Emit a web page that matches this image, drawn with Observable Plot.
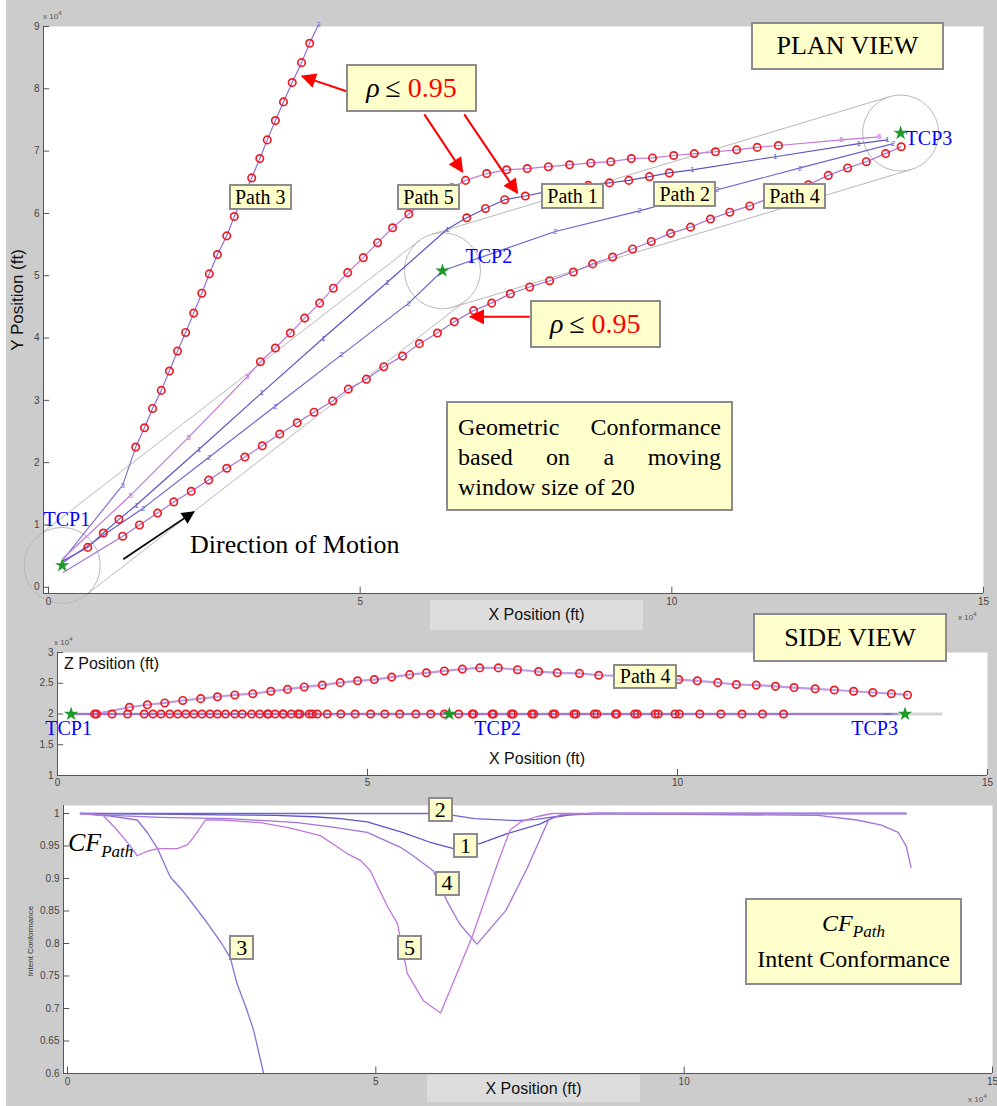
<!DOCTYPE html>
<html>
<head>
<meta charset="utf-8">
<script src="https://cdn.jsdelivr.net/npm/d3@7"></script>
<script src="https://cdn.jsdelivr.net/npm/@observablehq/plot@0.6"></script>
<style>
  body { margin: 0; background: #ffffff; }
  #fig { position: relative; width: 997px; height: 1106px; background: #cccccc; overflow: hidden;
         font-family: "Liberation Sans", Arial, sans-serif; }
  #fig > svg { position: absolute; left: 0; }
  .box { position: absolute; box-sizing: border-box; background: #ffffcc; border: 2px solid #8c8c8c;
         font-family: "Liberation Serif", "Times New Roman", serif; color: #000; white-space: nowrap; }
  .ctr { display: flex; align-items: center; justify-content: center; }
  .txt { position: absolute; white-space: nowrap; }
  .xlab { position: absolute; background: #dddddd; color: #111; font-size: 16px; display: flex;
          align-items: center; justify-content: center; }
  .exp { position: absolute; font-size: 8px; color: #555; white-space: nowrap; }
  .exp sup { font-size: 6px; }
</style>
</head>
<body>
<div id="fig"></div>
<script>
// ---------------------------------------------------------------------------
// Plan-view trajectories, x / y in 10^4 ft.  Third value: 1 where the
// geometric conformance over the moving window drops to rho <= 0.95.
const path1 = [[0.24,0.43,0],[0.63,0.64,1],[0.88,0.87,1],[1.13,1.09,1],[1.41,1.32,0],[2.42,2.22,0],
  [3.42,3.12,0],[4.41,4.00,0],[5.44,4.90,0],[6.40,5.75,0],[6.71,5.93,1],[7.01,6.08,1],[7.32,6.22,1],
  [7.65,6.28,1],[7.99,6.35,1],[8.33,6.40,1],[8.66,6.45,1],[9.00,6.49,1],[9.31,6.53,1],[9.64,6.59,1],
  [9.96,6.65,1],[10.33,6.70,0],[11.66,6.91,0],[13.00,7.12,0],[13.46,7.18,0]];
const path2 = [[0.24,0.40,0],[1.52,1.27,0],[2.58,2.09,0],[3.64,2.91,0],[4.70,3.73,0],[5.78,4.56,0],
  [6.32,5.08,0],[8.13,5.71,0],[9.48,6.04,0],[10.73,6.38,0],[12.06,6.73,0],[13.55,7.12,0]];
const path3 = [[0.24,0.45,0],[1.19,1.64,0],[1.40,2.25,1],[1.54,2.56,1],[1.67,2.87,1],[1.81,3.16,1],
  [1.94,3.47,1],[2.07,3.79,1],[2.20,4.09,1],[2.33,4.40,1],[2.46,4.72,1],[2.58,5.03,1],[2.71,5.34,1],
  [2.86,5.64,1],[2.98,5.95,1],[3.13,6.27,1],[3.26,6.57,1],[3.39,6.88,1],[3.51,7.18,1],[3.64,7.49,1],
  [3.77,7.79,1],[3.91,8.10,1],[4.06,8.42,1],[4.19,8.73,1],[4.33,9.03,0]];
const path4 = [[0.24,0.24,0],[1.19,0.82,1],[1.46,1.00,1],[1.75,1.19,1],[2.01,1.37,1],[2.29,1.54,1],
  [2.57,1.72,1],[2.86,1.91,1],[3.15,2.09,1],[3.43,2.27,1],[3.71,2.46,1],[3.99,2.64,1],[4.26,2.81,1],
  [4.56,2.99,1],[4.81,3.18,1],[5.10,3.34,1],[5.38,3.54,1],[5.68,3.71,1],[5.95,3.91,1],[6.24,4.08,1],
  [6.51,4.26,1],[6.82,4.44,1],[7.11,4.56,1],[7.41,4.71,1],[7.72,4.82,1],[8.04,4.92,1],[8.42,5.06,1],
  [8.73,5.19,1],[9.05,5.30,1],[9.37,5.43,1],[9.67,5.55,1],[9.98,5.68,1],[10.30,5.78,1],[10.62,5.91,1],
  [10.93,6.02,1],[11.25,6.12,1],[11.55,6.24,1],[11.87,6.35,1],[12.19,6.46,1],[12.51,6.61,1],
  [12.82,6.73,1],[13.12,6.83,1],[13.43,6.96,1],[13.68,7.07,1]];
const path5 = [[0.24,0.47,0],[1.32,1.48,0],[2.25,2.41,0],[3.19,3.38,0],[3.40,3.62,1],[3.64,3.84,1],
  [3.88,4.08,1],[4.11,4.32,1],[4.35,4.56,1],[4.57,4.80,1],[4.80,5.05,1],[5.05,5.29,1],[5.28,5.53,1],
  [5.52,5.77,1],[5.78,5.99,1],[6.02,6.17,1],[6.24,6.30,1],[6.47,6.41,1],[6.69,6.53,1],[7.03,6.64,1],
  [7.35,6.70,1],[7.68,6.72,1],[8.02,6.75,1],[8.36,6.78,1],[8.70,6.81,1],[9.02,6.83,1],[9.35,6.88,1],
  [9.69,6.89,1],[10.03,6.93,1],[10.36,6.96,1],[10.70,6.99,1],[11.04,7.02,1],[11.37,7.06,1],
  [11.71,7.09,1],[12.72,7.18,0],[13.33,7.23,0]];

// Trajectory change points and the radius of the capture circle around each (10^4 ft)
const tcpNames = ["TCP1", "TCP2", "TCP3"];
const tcpX = [0.22, 6.32, 13.67];
const tcpY = [0.35, 5.08, 7.29];
const tcpRadius = 0.61;
const cruiseAlt = 2.0;   // altitude of paths 1, 2, 3 and 5 (10^4 ft)

// Side view of path 4: [x, z, flagged]
const side4 = [[0.24,2.00,0],[0.60,2.00,1],[1.16,2.11,1],[1.45,2.15,1],[1.73,2.18,1],[2.02,2.22,1],
  [2.31,2.25,1],[2.58,2.28,1],[2.86,2.31,1],[3.15,2.33,1],[3.44,2.37,1],[3.71,2.40,1],[3.98,2.44,1],
  [4.27,2.47,1],[4.56,2.51,1],[4.84,2.54,1],[5.11,2.56,1],[5.39,2.60,1],[5.68,2.64,1],[5.95,2.67,1],
  [6.24,2.70,1],[6.53,2.73,1],[6.81,2.75,1],[7.11,2.75,1],[7.42,2.72,1],[7.76,2.69,1],[8.06,2.67,1],
  [8.42,2.66,1],[8.73,2.63,1],[9.05,2.62,1],[9.37,2.60,1],[9.70,2.58,1],[10.02,2.56,1],[10.32,2.54,1],
  [10.65,2.51,1],[10.95,2.48,1],[11.27,2.47,1],[11.58,2.45,1],[11.88,2.43,1],[12.22,2.41,1],
  [12.53,2.39,1],[12.84,2.37,1],[13.15,2.35,1],[13.45,2.33,1],[13.71,2.31,1]];

// Intent conformance CF_Path against x position: [x (10^4 ft), CF]
const cf1 = [[0.21,1.0],[1.5,0.999],[2.5,0.998],[3.37,0.997],[4.0,0.995],[4.42,0.992],[4.86,0.987],
  [5.43,0.971],[5.9,0.955],[6.26,0.946],[6.70,0.954],[7.13,0.969],[7.67,0.984],[7.88,0.994],
  [8.15,0.998],[8.6,1.0],[13.6,1.0]];
const cf2 = [[0.21,1.0],[6.0,1.0],[6.26,0.997],[6.6,0.992],[6.86,0.991],[7.29,0.989],[7.6,0.991],
  [7.83,0.994],[8.1,0.998],[8.5,1.0],[13.6,1.0]];
const cf3 = [[0.21,1.0],[0.7,0.996],[1.13,0.99],[1.3,0.97],[1.46,0.946],[1.62,0.912],[1.67,0.902],
  [1.86,0.882],[2.2,0.84],[2.5,0.80],[2.64,0.778],[2.75,0.738],[2.9,0.70],[3.02,0.666],[3.18,0.60]];
const cf4 = [[0.21,1.0],[0.7,0.997],[1.5,0.994],[2.59,0.992],[3.2,0.989],[3.73,0.986],[4.3,0.979],
  [4.86,0.971],[5.4,0.948],[5.56,0.938],[5.93,0.912],[6.15,0.866],[6.36,0.83],[6.64,0.799],
  [7.11,0.851],[7.45,0.915],[7.8,0.99],[8.0,0.998],[8.5,1.0],[12.17,0.997],[12.8,0.99],
  [13.2,0.982],[13.47,0.971],[13.6,0.95],[13.68,0.917]];
const cf5 = [[0.21,1.0],[0.58,0.997],[0.8,0.975],[1.0,0.952],[1.13,0.935],[1.3,0.942],[1.46,0.946],
  [1.78,0.946],[1.95,0.952],[2.04,0.963],[2.24,0.99],[2.5,0.99],[3.13,0.986],[3.6,0.978],[4.1,0.966],
  [4.54,0.938],[4.75,0.928],[4.91,0.912],[5.04,0.886],[5.2,0.855],[5.35,0.831],[5.51,0.754],
  [5.77,0.712],[6.05,0.693],[6.56,0.81],[7.0,0.93],[7.18,0.975],[7.37,0.988],[7.6,0.995],
  [7.86,1.0],[13.6,1.0]];

// Axis ticks
const planXTicks = [0, 5, 10, 15];
const planYTicks = [0, 1, 2, 3, 4, 5, 6, 7, 8, 9];
const sideYTicks = [1, 1.5, 2, 2.5, 3];
const cfYTicks = [0.6, 0.65, 0.7, 0.75, 0.8, 0.85, 0.9, 0.95, 1];

// Annotation anchors (data coordinates of a box's top-left corner)
const planLabels = [["Path 3", 2.90, 6.46], ["Path 5", 5.60, 6.46], ["Path 1", 7.91, 6.48],
                    ["Path 2", 9.71, 6.51], ["Path 4", 11.47, 6.48]];
const rhoBoxes = [[4.78, 8.39], [7.73, 4.60]];
const rhoArrows = [[4.78, 7.96, 4.07, 8.20], [6.03, 7.59, 6.64, 6.67], [6.67, 7.59, 7.52, 6.33],
                   [7.72, 4.34, 6.77, 4.34]];
const motionArrow = [[1.20, 0.45, 2.33, 1.21]];
const planTcpText = [[-0.08, 1.08], [6.69, 5.30], [13.75, 7.20]];
const sideTcpText = [[0.18, 1.76], [7.10, 1.76], [13.18, 1.76]];
const cfLabels = [["2", 5.85, 1.0246], ["1", 6.26, 0.969], ["4", 5.96, 0.911],
                  ["3", 2.63, 0.812], ["5", 5.35, 0.812]];

// ---------------------------------------------------------------------------
const pathColor = {1: "#5a55c6", 2: "#6f64d2", 3: "#8a6fd4", 4: "#a274d6", 5: "#bf78dc"};
const ringColor = "#ec1c24";
const serif = "Liberation Serif, Times New Roman, serif";
const axisGray = "#555555";
const style = {background: "transparent", fontFamily: "Liberation Sans, Arial, sans-serif",
               fontSize: "10px", color: "#444444", overflow: "visible"};
const fmt = d => d3.format("~g")(d);

const planPaths = [[1, path1], [2, path2], [3, path3], [4, path4], [5, path5]];
const planRows = planPaths.flatMap(([id, pts]) =>
  pts.map(([x, y, flag], i) => ({path: id, x, y, flag, i})));
const tcps = tcpNames.map((name, k) => ({name, x: tcpX[k], y: tcpY[k]}));

// straight edges of the corridor joining consecutive capture circles
const corridor = [];
for (let k = 0; k < tcps.length - 1; k++) {
  const a = tcps[k], b = tcps[k + 1];
  const len = Math.hypot(b.x - a.x, b.y - a.y);
  const nx = -(b.y - a.y) / len * tcpRadius, ny = (b.x - a.x) / len * tcpRadius;
  for (const s of [1, -1]) corridor.push({x1: a.x + s * nx, y1: a.y + s * ny, x2: b.x + s * nx, y2: b.y + s * ny});
}
const seg = ([x1, y1, x2, y2]) => ({x1, y1, x2, y2});

// ---------------------------------------------------------------------------
// PLAN VIEW
const planML = 43, planMR = 14, planXDom = [-0.08, 15];
const kx = (997 - planML - planMR) / (planXDom[1] - planXDom[0]);
const plan = Plot.plot({
  width: 997, height: 640, marginLeft: planML, marginRight: planMR, marginTop: 26, marginBottom: 47,
  x: {domain: planXDom}, y: {domain: [-0.1, 9]}, color: {type: "identity"}, style,
  marks: [
    Plot.frame({fill: "white", stroke: "none"}),
    Plot.link(corridor, {x1: "x1", y1: "y1", x2: "x2", y2: "y2", stroke: "#b8b8b8", strokeWidth: 1}),
    Plot.dot(tcps, {x: "x", y: "y", r: tcpRadius * kx, stroke: "#b8b8b8", strokeWidth: 1}),
    Plot.line(planRows, {x: "x", y: "y", z: "path", stroke: d => pathColor[d.path], strokeWidth: 1.2}),
    Plot.text(planRows.filter(d => !d.flag && d.i > 0),
      {x: "x", y: "y", text: d => String(d.path), fill: d => pathColor[d.path], fontSize: 8}),
    Plot.dot(planRows.filter(d => d.flag), {x: "x", y: "y", r: 3.7, stroke: ringColor, strokeWidth: 1.7}),
    Plot.dot(tcps, {x: "x", y: "y", symbol: "star", fill: "#1f9a2a", r: 4.5}),
    Plot.text(tcps, {x: (d, k) => planTcpText[k][0], y: (d, k) => planTcpText[k][1], text: "name",
      fill: "#0000ff", fontSize: 20, fontFamily: serif, textAnchor: "start"}),
    Plot.link(rhoArrows.map(seg), {x1: "x1", y1: "y1", x2: "x2", y2: "y2", stroke: "red", strokeWidth: 2}),
    Plot.link(motionArrow.map(seg), {x1: "x1", y1: "y1", x2: "x2", y2: "y2", stroke: "black", strokeWidth: 1.8}),
    Plot.ruleX([planXDom[0]], {stroke: axisGray}),
    Plot.ruleY([-0.1], {stroke: axisGray}),
    Plot.ruleX(planXTicks, {y1: -0.1, y2: 0.0, stroke: axisGray}),
    Plot.ruleY(planYTicks, {x1: planXDom[0], x2: 0.02, stroke: axisGray}),
    Plot.axisX({ticks: planXTicks, tickSize: 0, tickPadding: 4, label: null, fill: "#444", tickFormat: fmt}),
    Plot.axisY({ticks: planYTicks, tickSize: 0, tickPadding: 4, label: null, fill: "#444", tickFormat: fmt})
  ]
});
plan.style.top = "0px";

// solid arrow heads for the annotation arrows
{
  const s = d3.select(plan);
  const defs = s.append("defs");
  for (const [id, c, w, h] of [["headRed", "red", 17, 15], ["headBlack", "black", 16, 13]]) {
    defs.append("marker").attr("id", id).attr("viewBox", "0 0 10 10").attr("refX", 9).attr("refY", 5)
      .attr("markerWidth", w).attr("markerHeight", h).attr("markerUnits", "userSpaceOnUse")
      .attr("orient", "auto").append("path").attr("d", "M0,0L10,5L0,10Z").attr("fill", c);
  }
  s.selectAll('g[aria-label="link"]').each(function () {
    const st = this.getAttribute("stroke");
    if (st === "red" || st === "black")
      d3.select(this).selectAll("path").attr("marker-end", st === "red" ? "url(#headRed)" : "url(#headBlack)");
  });
}

// ---------------------------------------------------------------------------
// SIDE VIEW
const levelRows = planRows.filter(d => d.path !== 4).map(d => ({...d, z: cruiseAlt}));
const side4Rows = side4.map(([x, z, flag]) => ({x, z, flag}));
const sideTop = 640;
const side = Plot.plot({
  width: 997, height: 155, marginLeft: 57, marginRight: 10, marginTop: 12, marginBottom: 20,
  x: {domain: [0, 15]}, y: {domain: [1, 3]}, color: {type: "identity"}, style,
  marks: [
    Plot.frame({fill: "white", stroke: "none"}),
    Plot.ruleY([cruiseAlt], {x1: tcpX[0], x2: tcpX[2] + tcpRadius, stroke: "#d4d4d4", strokeWidth: 3}),
    Plot.line(levelRows, {x: "x", y: "z", z: "path", stroke: d => pathColor[d.path], strokeWidth: 1.6, strokeOpacity: 0.75}),
    Plot.line(side4Rows, {x: "x", y: "z", stroke: pathColor[4], strokeWidth: 2.2, strokeOpacity: 0.7}),
    Plot.dot(levelRows.filter(d => d.flag), {x: "x", y: "z", r: 3.7, stroke: ringColor, strokeWidth: 1.7}),
    Plot.dot(side4Rows.filter(d => d.flag), {x: "x", y: "z", r: 3.7, stroke: ringColor, strokeWidth: 1.7}),
    Plot.dot(tcps, {x: "x", y: () => cruiseAlt, symbol: "star", fill: "#1f9a2a", r: 4.5}),
    Plot.text(tcps, {x: (d, k) => sideTcpText[k][0], y: (d, k) => sideTcpText[k][1], text: "name",
      fill: "#0000ff", fontSize: 20, fontFamily: serif}),
    Plot.ruleX([0], {stroke: axisGray}),
    Plot.ruleY([1], {stroke: axisGray}),
    Plot.ruleX(planXTicks, {y1: 1, y2: 1.1, stroke: axisGray}),
    Plot.ruleY(sideYTicks, {x1: 0, x2: 0.1, stroke: axisGray}),
    Plot.axisX({ticks: planXTicks, tickSize: 0, tickPadding: 3, label: null, fill: "#444", tickFormat: fmt}),
    Plot.axisY({ticks: sideYTicks, tickSize: 0, tickPadding: 4, label: null, fill: "#444", tickFormat: fmt})
  ]
});
side.style.top = sideTop + "px";

// ---------------------------------------------------------------------------
// INTENT CONFORMANCE
const cfRows = [[1, cf1], [2, cf2], [3, cf3], [4, cf4], [5, cf5]]
  .flatMap(([id, pts]) => pts.map(([x, v]) => ({path: id, x, v})));
const cfTop = 795, cfXDom = [-0.065, 15];
const cf = Plot.plot({
  width: 997, height: 311, marginLeft: 63, marginRight: 5, marginTop: 10, marginBottom: 33,
  x: {domain: cfXDom}, y: {domain: [0.6, 1.0123]}, color: {type: "identity"}, style,
  marks: [
    Plot.frame({fill: "white", stroke: "none"}),
    Plot.line(cfRows, {x: "x", y: "v", z: "path", stroke: d => pathColor[d.path], strokeWidth: 1.3}),
    Plot.ruleX([cfXDom[0]], {stroke: axisGray}),
    Plot.ruleY([0.6], {stroke: axisGray}),
    Plot.ruleX(planXTicks, {y1: 0.6, y2: 0.61, stroke: axisGray}),
    Plot.ruleY(cfYTicks, {x1: cfXDom[0], x2: 0.035, stroke: axisGray}),
    Plot.axisX({ticks: planXTicks, tickSize: 0, tickPadding: 4, label: null, fill: "#444", tickFormat: fmt}),
    Plot.axisY({ticks: cfYTicks, tickSize: 0, tickPadding: 4, label: null, fill: "#444", tickFormat: fmt})
  ]
});
cf.style.top = cfTop + "px";

// ---------------------------------------------------------------------------
const fig = document.getElementById("fig");
fig.append(plan, side, cf);

function add(html, cls, css) {
  const el = document.createElement("div");
  el.className = cls;
  el.innerHTML = html;
  Object.assign(el.style, css);
  fig.appendChild(el);
  return el;
}
const px = v => v + "px";

// left white margin of the figure
add("", "txt", {left: "0px", top: "0px", width: "6px", height: "1106px", background: "#ffffff"});

// plan view overlays
const psx = plan.scale("x"), psy = plan.scale("y");
for (const [t, x, y] of planLabels)
  add(t, "box ctr", {left: px(psx.apply(x)), top: px(psy.apply(y)), width: "63px", height: "26px", fontSize: "20px"});
for (const [x, y] of rhoBoxes)
  add('<i>&rho;</i>&thinsp;&le;&nbsp;<span style="color:#ff0000">0.95</span>', "box ctr",
      {left: px(psx.apply(x)), top: px(psy.apply(y)), width: "131px", height: "48px", fontSize: "28px"});
add("PLAN VIEW", "box ctr", {left: "751px", top: "22px", width: "193px", height: "48px", fontSize: "26px"});
add('<div style="text-align:justify;text-align-last:justify">Geometric Conformance</div>' +
    '<div style="text-align:justify;text-align-last:justify">based on a moving</div>' +
    '<div>window size of 20</div>', "box",
    {left: "446px", top: "401px", width: "287px", height: "110px", padding: "9px 10px",
     fontSize: "24px", lineHeight: "30px", whiteSpace: "normal"});
add("Direction of Motion", "txt", {left: "190px", top: "530px", fontSize: "26px", fontFamily: serif, color: "#000"});
add("Y Position (ft)", "txt", {left: "18px", top: "300px", fontSize: "17px", color: "#111",
    transform: "translate(-50%,-50%) rotate(-90deg)"});
add("X Position (ft)", "xlab", {left: "430px", top: "600px", width: "213px", height: "30px"});
add("x 10<sup>4</sup>", "exp", {left: "43px", top: "10px"});
add("x 10<sup>4</sup>", "exp", {left: "958px", top: "611px"});

// side view overlays
const ssx = side.scale("x"), ssy = side.scale("y");
add("SIDE VIEW", "box ctr", {left: "753px", top: "613px", width: "194px", height: "49px", fontSize: "26px"});
add("Path 4", "box ctr", {left: px(ssx.apply(8.97)), top: px(sideTop + ssy.apply(2.80)), width: "64px", height: "25px", fontSize: "20px"});
add("Z Position (ft)", "txt", {left: "64px", top: "655px", fontSize: "16px", color: "#111"});
add("X Position (ft)", "txt", {left: "537px", top: "759px", fontSize: "16px", color: "#111", transform: "translate(-50%,-50%)"});
add("x 10<sup>4</sup>", "exp", {left: "54px", top: "636px"});

// intent conformance overlays
const csx = cf.scale("x"), csy = cf.scale("y");
for (const [t, x, v] of cfLabels)
  add(t, "box ctr", {left: px(csx.apply(x)), top: px(cfTop + csy.apply(v)), width: "25px", height: "25px", fontSize: "22px"});
add('<i>CF</i><sub style="font-size:17px;font-style:italic;vertical-align:-6px;line-height:0">Path</sub>', "txt",
    {left: "68px", top: "828px", fontSize: "26px", fontFamily: serif, color: "#000"});
add('<div style="line-height:34px"><i>CF</i><sub style="font-size:17px;font-style:italic;vertical-align:-6px;line-height:0">Path</sub></div>' +
    '<div style="line-height:30px;margin-top:4px">Intent Conformance</div>', "box",
    {left: "745px", top: "898px", width: "217px", height: "87px", textAlign: "center", fontSize: "24px", paddingTop: "6px"});
add("Intent Conformance", "txt", {left: "30px", top: "941px", fontSize: "8px", color: "#333",
    transform: "translate(-50%,-50%) rotate(-90deg)"});
add("X Position (ft)", "xlab", {left: "427px", top: "1075px", width: "213px", height: "27px"});
add("x 10<sup>4</sup>", "exp", {left: "968px", top: "1093px"});
</script>
</body>
</html>
